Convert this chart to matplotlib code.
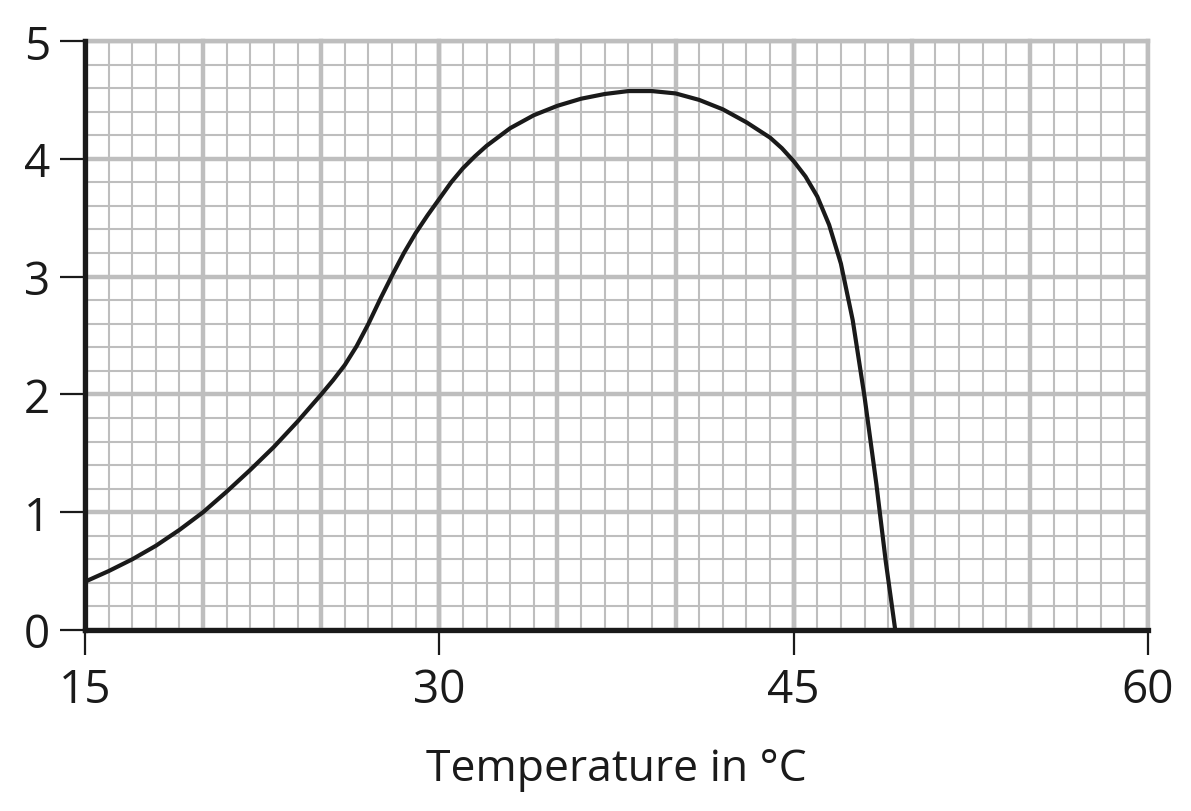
import matplotlib
matplotlib.use("Agg")
import matplotlib.pyplot as plt
from matplotlib.ticker import MultipleLocator

temperature = [15, 16, 17, 18, 19, 20, 21, 22, 23, 24, 25, 25.5, 26, 26.5, 27, 27.5, 28, 28.5,
               29, 29.5, 30, 30.5, 31, 31.5, 32, 33, 34, 35, 36, 37, 38, 39, 40, 41, 42, 43,
               44, 44.5, 45, 45.5, 46, 46.5, 47, 47.5, 48, 48.5, 48.9, 49.3]
rate = [0.41, 0.5, 0.6, 0.715, 0.85, 1.0, 1.175, 1.36, 1.555, 1.77, 2.0, 2.12, 2.25, 2.41,
        2.6, 2.81, 3.01, 3.2, 3.37, 3.52, 3.66, 3.8, 3.92, 4.02, 4.11, 4.26, 4.37, 4.45,
        4.51, 4.55, 4.575, 4.575, 4.555, 4.5, 4.42, 4.31, 4.18, 4.09, 3.98, 3.85, 3.68,
        3.44, 3.11, 2.63, 1.98, 1.24, 0.58, 0.0]
x_ticks = [15, 30, 45, 60]
y_ticks = [0, 1, 2, 3, 4, 5]
x_label = "Temperature in °C"

plt.rcParams['font.family'] = ['Open Sans', 'DejaVu Sans']

fig = plt.figure(figsize=(11.91, 8.12), dpi=100)
ax = fig.add_axes([85/1191, (812-631)/812, (1148-85)/1191, (631-42)/812])

ax.set_xlim(15, 60)
ax.set_ylim(0, 5)

grid_col = '#bebebe'
ax.xaxis.set_major_locator(MultipleLocator(5))
ax.xaxis.set_minor_locator(MultipleLocator(1))
ax.yaxis.set_major_locator(MultipleLocator(1))
ax.yaxis.set_minor_locator(MultipleLocator(0.2))
ax.grid(which='minor', color=grid_col, linewidth=1.5)
ax.grid(which='major', color=grid_col, linewidth=3.2)
ax.set_axisbelow(True)

ax.plot(temperature, rate, color='#1a1a1a', linewidth=3.0, solid_joinstyle='round',
        solid_capstyle='butt', zorder=3)

ax.set_xticks(x_ticks)
ax.set_xticklabels([str(t) for t in x_ticks])
ax.set_yticks(y_ticks)
ax.set_yticklabels([str(t) for t in y_ticks])
for xv in range(15, 61, 5):
    ax.axvline(xv, color=grid_col, linewidth=3.2, zorder=0.5, clip_on=False)
ax.axhline(5, color=grid_col, linewidth=3.2, zorder=0.5, clip_on=False)

ax.tick_params(which='minor', length=0)
ax.tick_params(which='major', direction='out', length=18, width=1.6, color='#1a1a1a',
               labelsize=33, labelcolor='#1a1a1a')
ax.tick_params(axis='x', pad=9)
ax.tick_params(axis='y', pad=7)

for s in ['top', 'right']:
    ax.spines[s].set_visible(False)
for s in ['left', 'bottom']:
    ax.spines[s].set_linewidth(3.8)
    ax.spines[s].set_color('#1a1a1a')
    ax.spines[s].set_zorder(4)

ax.set_xlabel(x_label, fontsize=32, color='#1a1a1a', labelpad=24)

fig.savefig('out.png', dpi=100)
